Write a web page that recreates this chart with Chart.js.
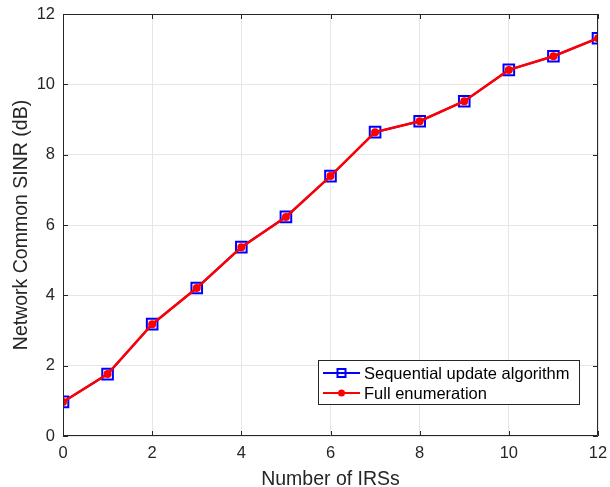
<!DOCTYPE html>
<html>
<head>
<meta charset="utf-8">
<script src="https://cdn.jsdelivr.net/npm/chart.js@4.4.1/dist/chart.umd.min.js"></script>
<style>
  html, body { margin: 0; padding: 0; background: #fff; }
  #wrap { width: 610px; height: 487px; }
</style>
</head>
<body>
<div id="wrap"><canvas id="c" width="610" height="487"></canvas></div>
<script>
// values
const numIRS = [0, 1, 2, 3, 4, 5, 6, 7, 8, 9, 10, 11, 12];
const sequentialSINR = [0.97, 1.76, 3.18, 4.21, 5.37, 6.23, 7.39, 8.64, 8.95, 9.52, 10.41, 10.80, 11.31];
const fullEnumSINR = [0.97, 1.76, 3.18, 4.21, 5.37, 6.23, 7.39, 8.64, 8.95, 9.52, 10.41, 10.80, 11.31];
const xTicks = [0, 2, 4, 6, 8, 10, 12];
const yTicks = [0, 2, 4, 6, 8, 10, 12];

const FONT = '"Liberation Sans", Arial, Helvetica, sans-serif';
const AXIS = '#262626';

function pts(ys) {
  return numIRS.map((x, i) => ({ x: x, y: ys[i] }));
}

// box, inward ticks and legend, MATLAB style
const frame = {
  id: 'frame',
  afterDraw(chart) {
    const { ctx, chartArea: a, scales } = chart;
    ctx.save();
    ctx.strokeStyle = AXIS;
    ctx.lineWidth = 1;
    ctx.beginPath();
    ctx.rect(a.left + 0.5, a.top + 0.5, a.right - a.left - 1, a.bottom - a.top - 1);
    ctx.stroke();
    ctx.beginPath();
    xTicks.forEach(v => {
      const px = Math.round(scales.x.getPixelForValue(v)) + 0.5;
      ctx.moveTo(px, a.bottom); ctx.lineTo(px, a.bottom - 5);
      ctx.moveTo(px, a.top); ctx.lineTo(px, a.top + 5);
    });
    yTicks.forEach(v => {
      const py = Math.round(scales.y.getPixelForValue(v)) + 0.5;
      ctx.moveTo(a.left, py); ctx.lineTo(a.left + 5, py);
      ctx.moveTo(a.right, py); ctx.lineTo(a.right - 5, py);
    });
    ctx.stroke();

    // legend
    const lx = 318, ly = 360, lw = 261, lh = 44;
    ctx.fillStyle = '#fff';
    ctx.fillRect(lx, ly, lw, lh);
    ctx.strokeStyle = AXIS;
    ctx.strokeRect(lx + 0.5, ly + 0.5, lw, lh);
    const items = [chart.data.datasets[1], chart.data.datasets[0]];
    items.forEach((ds, i) => {
      const cy = ly + 13 + i * 20;
      ctx.strokeStyle = ds.borderColor;
      ctx.lineWidth = 2;
      ctx.beginPath();
      ctx.moveTo(lx + 5, cy); ctx.lineTo(lx + 42, cy);
      ctx.stroke();
      if (ds.pointStyle === 'rect') {
        ctx.strokeRect(lx + 19.5, cy - 4, 8, 8);
      } else {
        ctx.fillStyle = ds.pointBackgroundColor;
        ctx.beginPath();
        ctx.arc(lx + 23.5, cy, 3.5, 0, Math.PI * 2);
        ctx.fill();
      }
      ctx.fillStyle = '#000';
      ctx.font = '16.5px ' + FONT;
      ctx.textBaseline = 'middle';
      ctx.fillText(ds.label, lx + 46, cy + 1);
    });
    ctx.restore();
  }
};

new Chart(document.getElementById('c'), {
  type: 'line',
  data: {
    datasets: [
      {
        label: 'Full enumeration',
        data: pts(fullEnumSINR),
        borderColor: '#ff0000',
        borderWidth: 2.5,
        pointStyle: 'circle',
        pointRadius: 4,
        pointBackgroundColor: '#ff0000',
        pointBorderColor: '#ff0000',
        pointBorderWidth: 0,
        tension: 0,
        order: 1
      },
      {
        label: 'Sequential update algorithm',
        data: pts(sequentialSINR),
        borderColor: '#0000ff',
        borderWidth: 2,
        pointStyle: 'rect',
        pointRadius: 7.5,
        pointBackgroundColor: 'rgba(0,0,0,0)',
        pointBorderColor: '#0000ff',
        pointBorderWidth: 2,
        tension: 0,
        order: 2
      }
    ]
  },
  options: {
    responsive: false,
    animation: false,
    layout: { padding: { left: 0, top: 14, right: 12, bottom: 0 } },
    plugins: { legend: { display: false }, tooltip: { enabled: false } },
    scales: {
      x: {
        type: 'linear',
        min: 0, max: 12,
        afterBuildTicks: s => { s.ticks = xTicks.map(v => ({ value: v })); },
        afterFit: s => { s.height = 51; s.paddingLeft = 0; s.paddingRight = 0; },
        grid: { color: '#e6e6e6', drawTicks: false },
        border: { display: false },
        ticks: { color: AXIS, font: { family: FONT, size: 16.5 }, padding: 8, maxRotation: 0 },
        title: { display: true, text: 'Number of IRSs', color: AXIS, font: { family: FONT, size: 19.5, lineHeight: 1 }, padding: { top: 0, bottom: -2 } }
      },
      y: {
        min: 0, max: 12,
        afterBuildTicks: s => { s.ticks = yTicks.map(v => ({ value: v })); },
        afterFit: s => { s.width = 63; s.paddingTop = 0; s.paddingBottom = 0; },
        grid: { color: '#e6e6e6', drawTicks: false },
        border: { display: false },
        ticks: { color: AXIS, font: { family: FONT, size: 16.5 }, padding: 8 },
        title: { display: true, text: 'Network Common SINR (dB)', color: AXIS, font: { family: FONT, size: 19.5, lineHeight: 1 }, padding: { top: 12, bottom: 0 } }
      }
    }
  },
  plugins: [frame]
});
</script>
</body>
</html>
